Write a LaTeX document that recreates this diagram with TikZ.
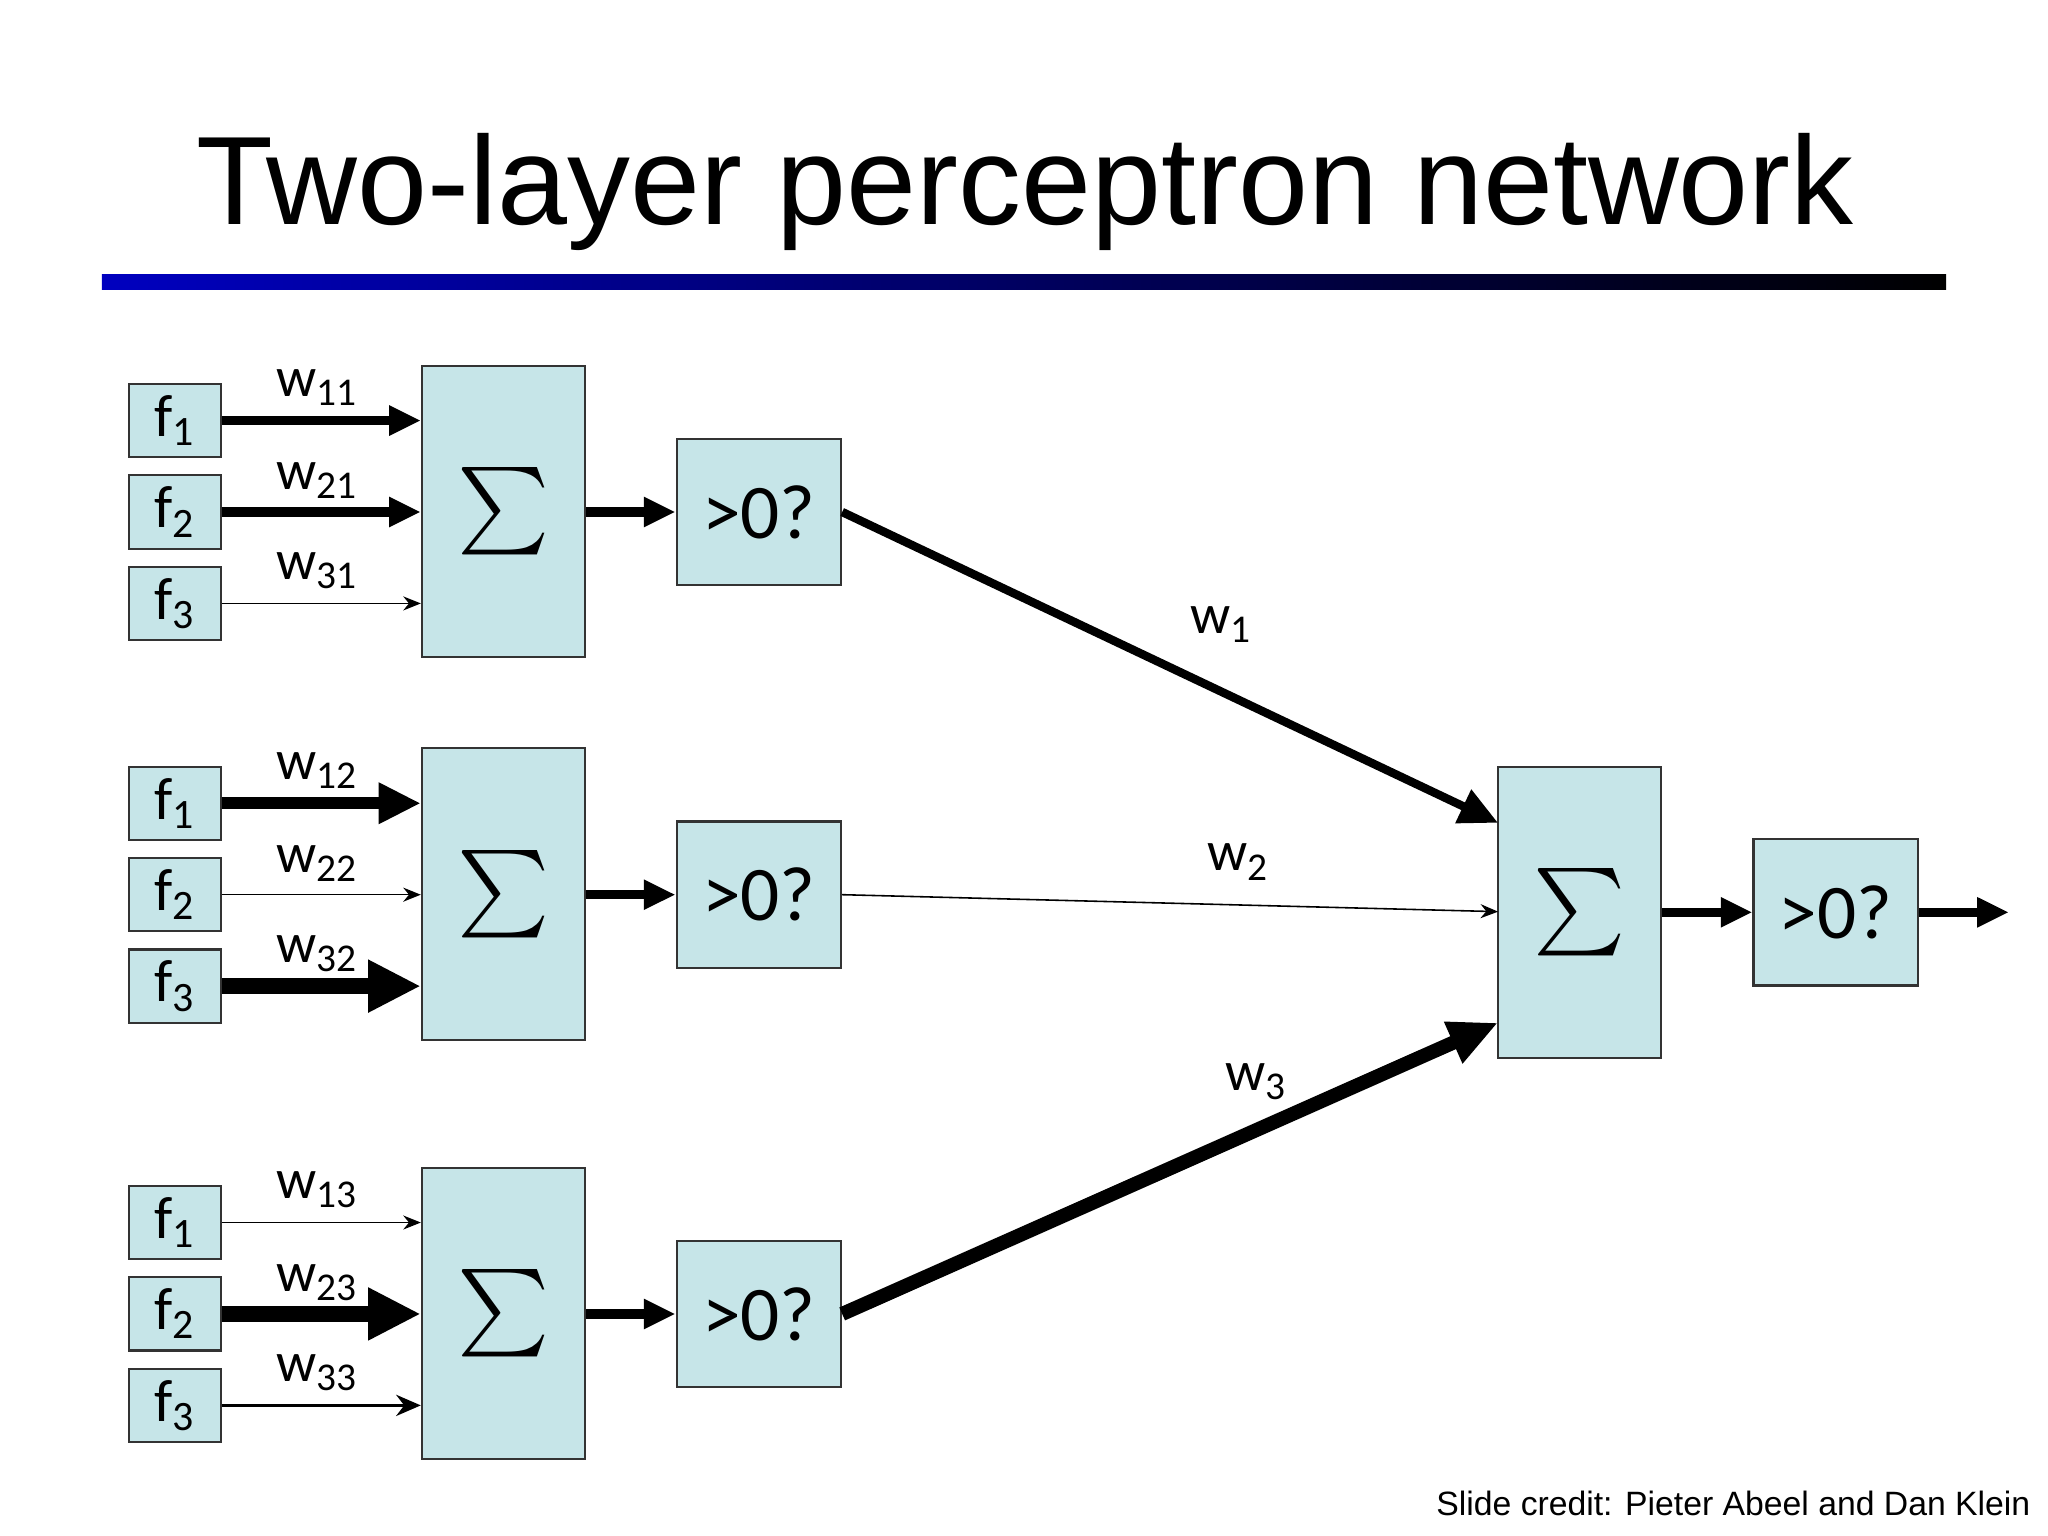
\documentclass[tikz,border=0pt]{standalone}
\usepackage{amsmath}
\usepackage{fontspec}
\setmainfont{Carlito}
\newfontfamily\arial{Liberation Sans}
\usetikzlibrary{arrows.meta}
\definecolor{boxc}{HTML}{C6E5E8}
\begin{document}
\begin{tikzpicture}[x=0.01306cm,y=-0.01306cm,
  bx/.style={draw=black!80,fill=boxc,line width=0.6pt,inner sep=0pt},
  fb/.style={bx,minimum width={70*0.01306cm},minimum height={56*0.01306cm},font=\fontsize{17}{17}\selectfont},
  sb/.style={bx,minimum width={125*0.01306cm},minimum height={223*0.01306cm},font=\fontsize{24}{24}\selectfont},
  tb/.style={bx,minimum width={126*0.01306cm},minimum height={112*0.01306cm},font=\fontsize{22}{22}\selectfont},
  wl/.style={font=\fontsize{16}{16}\selectfont,inner sep=0pt},
  a1/.style={line width=0.45pt,-{Stealth[length=5pt,width=4pt]}},
  a2/.style={line width=1pt,-{Stealth[length=7pt,width=6pt]}},
  a3/.style={line width=2.6pt,-{Triangle[length=9pt,width=8pt]}},
  a4/.style={line width=3.4pt,-{Triangle[length=12pt,width=11pt]}},
  a5/.style={line width=4.4pt,-{Triangle[length=15pt,width=14pt]}},
]
\useasboundingbox (0,0) rectangle (1568,1176);
\node[font=\arial\fontsize{35.8}{37}\selectfont,anchor=base] (title) at (785,172) {Two-layer perceptron network};
\shade[left color=blue!75!black,right color=black] (78,210) rectangle (1490,222);
% groups
\foreach \g/\yo in {1/0,2/293,3/614}{
  \node[fb] (f1\g) at (134,{322+\yo}) {f$_{\text{1}}$};
  \node[fb] (f2\g) at (134,{392+\yo}) {f$_{\text{2}}$};
  \node[fb] (f3\g) at (134,{462+\yo}) {f$_{\text{3}}$};
  \node[sb] (s\g) at (385.5,{391.5+\yo}) {$\textstyle\sum$};
  \node[tb] (t\g) at (581,{392+\yo}) {>0?};
  \draw[a3] (s\g.east |- t\g.west) -- (t\g.west);
  \node[wl] (w1\g) at (243,{297+\yo}) {w$_{\text{1\g}}$};
  \node[wl] (w2\g) at (243,{368+\yo}) {w$_{\text{2\g}}$};
  \node[wl] (w3\g) at (243,{437+\yo}) {w$_{\text{3\g}}$};
}
\draw[a3] (f11.east) -- (f11.east -| s1.west);
\draw[a3] (f21.east) -- (f21.east -| s1.west);
\draw[a1] (f31.east) -- (f31.east -| s1.west);
\draw[a4] (f12.east) -- (f12.east -| s2.west);
\draw[a1] (f22.east) -- (f22.east -| s2.west);
\draw[a5] (f32.east) -- (f32.east -| s2.west);
\draw[a1] (f13.east) -- (f13.east -| s3.west);
\draw[a5] (f23.east) -- (f23.east -| s3.west);
\draw[a2] (f33.east) -- (f33.east -| s3.west);
% output
\node[sb] (so) at (1209.5,698.5) {$\textstyle\sum$};
\node[tb] (to) at (1405.5,698.5) {>0?};
\coordinate (end) at (1538,698.5);
\coordinate (e1) at (1147,630);
\coordinate (e2) at (1147,698);
\coordinate (e3) at (1147,783);
\draw[line width=2.4pt,-{Triangle[length=11pt,width=10pt]}] (t1.east) -- (e1);
\draw[a1] (t2.east) -- (e2);
\draw[line width=4pt,-{Triangle[length=14pt,width=12pt]}] (t3.east) -- (e3);
\draw[a3] (so.east) -- (to.west);
\draw[a3] (to.east) -- (end);
\node[wl] (v1) at (935,478) {w$_{\text{1}}$};
\node[wl] (v2) at (948,660) {w$_{\text{2}}$};
\node[wl] (v3) at (962,828) {w$_{\text{3}}$};
\node[font=\arial\fontsize{9.6}{10}\selectfont,anchor=base east,inner sep=0pt] (credit) at (1555,1160) {Slide credit: Pieter Abeel and Dan Klein};
\end{tikzpicture}
\end{document}
